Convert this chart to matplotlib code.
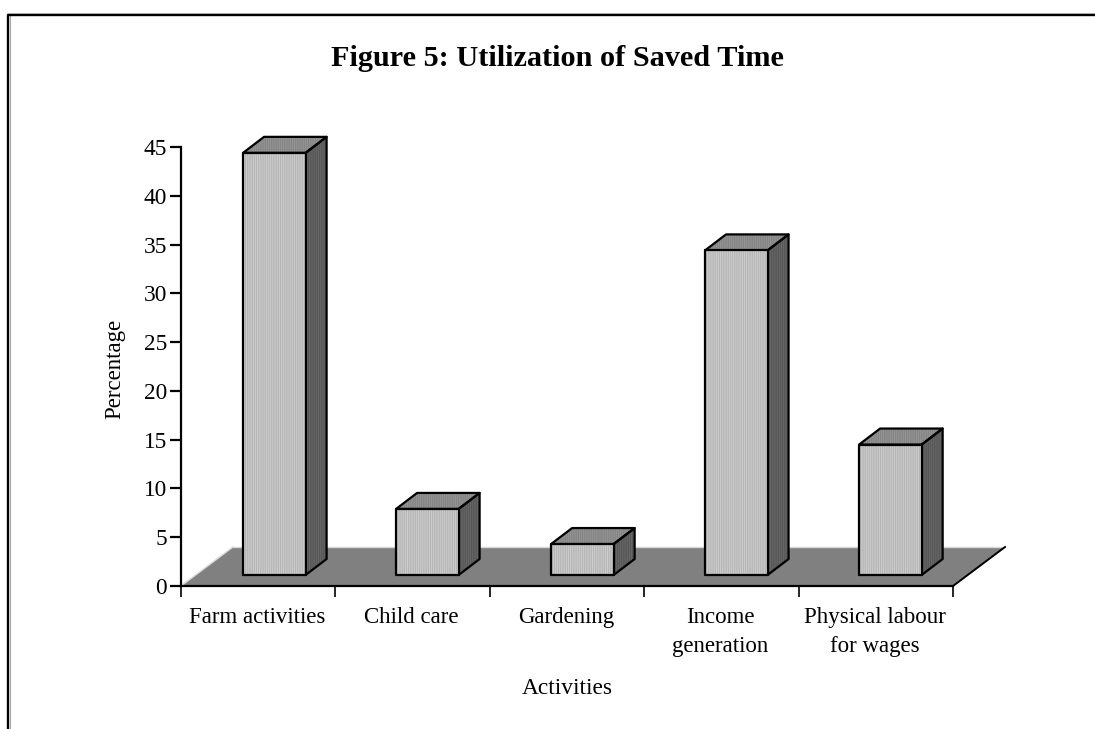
import matplotlib
matplotlib.use("Agg")
import matplotlib.pyplot as plt
from matplotlib.patches import Polygon

categories = ["Farm activities", "Child care", "Gardening",
              "Income\ngeneration", "Physical labour\nfor wages"]
values = [44.4, 7.9, 4.3, 34.4, 14.5]
yticks = [0, 5, 10, 15, 20, 25, 30, 35, 40, 45]

W, H = 1095, 729
# plot box in pixels
X0, X1 = 181, 953
Y0, Y1 = 586, 147
# 3d offsets in axis units
FLOOR_DX = 52 / 154.4
FLOOR_DY = 39 / 9.756
BAR_DX = 21 / 154.4
BAR_DY = 16 / 9.756
BAR_BASE = 11 / 9.756
BAR_L = [0.402, 1.393, 2.397, 3.394, 4.392]
BAR_W = 0.405

plt.rcParams['font.family'] = ['Liberation Serif', 'DejaVu Serif']
plt.rcParams['hatch.linewidth'] = 0.4

fig = plt.figure(figsize=(W / 100, H / 100), dpi=100)

# outer frame: only top and left are there, with a faint grey shadow
fig.add_artist(plt.Line2D([9.7 / W, 9.7 / W], [0, 1 - 16 / H], color="#a8a8a8", lw=0.8))
fig.add_artist(plt.Line2D([7 / W, 1], [1 - 13.3 / H, 1 - 13.3 / H], color="#cfcfcf", lw=0.8))
fig.add_artist(plt.Line2D([8.2 / W, 8.2 / W, 1], [0, 1 - 15 / H, 1 - 15 / H],
                          color="black", lw=1.7))

ax = fig.add_axes([X0 / W, 1 - Y0 / H, (X1 - X0) / W, (Y0 - Y1) / H])
ax.set_xlim(0, 5)
ax.set_ylim(0, 45)
ax.patch.set_visible(False)

# floor
ax.add_patch(Polygon([(0, 0), (5, 0), (5 + FLOOR_DX, FLOOR_DY), (FLOOR_DX, FLOOR_DY)],
                     closed=True, fc="#808080", ec="none", clip_on=False, zorder=1))
ax.plot([FLOOR_DX, 5 + FLOOR_DX], [FLOOR_DY, FLOOR_DY], color="#d8d8d8", lw=1,
        clip_on=False, zorder=1.2)
ax.plot([0, FLOOR_DX], [0, FLOOR_DY], color="#d8d8d8", lw=1, clip_on=False, zorder=1.2)
ax.plot([5, 5 + FLOOR_DX], [0, FLOOR_DY], color="black", lw=1.4, clip_on=False, zorder=1.3)

# bars, the stipple goes in as a separate hatched layer under the outline
for left, v in zip(BAR_L, values):
    right = left + BAR_W
    front = [(left, BAR_BASE), (right, BAR_BASE), (right, v), (left, v)]
    side = [(right, BAR_BASE), (right + BAR_DX, BAR_BASE + BAR_DY),
            (right + BAR_DX, v + BAR_DY), (right, v)]
    top = [(left, v), (right, v), (right + BAR_DX, v + BAR_DY), (left + BAR_DX, v + BAR_DY)]
    for pts, fc, hc, z in [(side, "#666666", "#4c4c4c", 3), (top, "#939393", "#7a7a7a", 3),
                           (front, "#cbcbcb", "#a6a6a6", 4)]:
        ax.add_patch(Polygon(pts, closed=True, fc=fc, ec=hc, hatch="|||||||||", lw=0,
                             clip_on=False, zorder=z))
        ax.add_patch(Polygon(pts, closed=True, fc="none", ec="black", lw=1.6,
                             clip_on=False, zorder=z + 0.1, joinstyle="round"))

for s in ["top", "right"]:
    ax.spines[s].set_visible(False)
for s in ["left", "bottom"]:
    ax.spines[s].set_linewidth(1.6)
    ax.spines[s].set_zorder(5)

ax.set_yticks(yticks)
ax.set_xticks(range(6))
ax.set_xticklabels([])
ax.tick_params(axis="y", length=8, width=1.6, labelsize=16.8, pad=2)
ax.tick_params(axis="x", length=8, width=1.2)

# category labels sit between the ticks
for i, name in enumerate(categories):
    ax.annotate(name, (i + 0.5, 0), xytext=(-1, -21), textcoords="offset pixels",
                ha="center", va="top", fontsize=16.5, linespacing=1.5)

ax.text(-0.43, 22.2, "Percentage", rotation=90, ha="center", va="center", fontsize=16.5)
fig.text(567 / W, 1 - 688 / H, "Activities", ha="center", va="center", fontsize=16.8)
fig.text(557 / W, 1 - 59 / H, "Figure 5: Utilization of Saved Time", ha="center",
         va="center", fontsize=21.8, fontweight="bold")

fig.savefig("out.png", dpi=100)
